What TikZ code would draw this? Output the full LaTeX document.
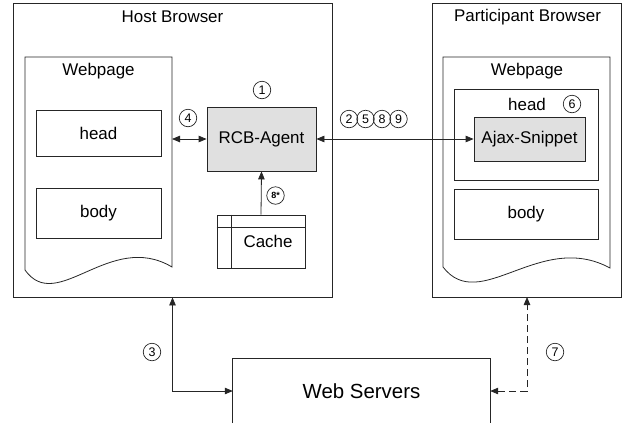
\documentclass[tikz,border=0pt]{standalone}
\usepackage{fontspec}
\setmainfont{Liberation Sans}
\usetikzlibrary{arrows.meta}

\tikzset{
  box/.style={draw=black!85, line width=0.8bp, inner sep=0pt},
  agentbox/.style={box, fill=black!12},
  num/.style={circle, draw=black!85, line width=0.7bp, inner sep=0pt,
    minimum size=17.5bp, font=\fontsize{12.5}{12.5}\selectfont},
  tip/.tip={Triangle[length=8bp,width=6.5bp]},
  link/.style={line width=0.8bp, draw=black!85},
}

\begin{document}
\begin{tikzpicture}[x=1bp, y=-1bp, font=\fontsize{17}{19}\selectfont]
    \useasboundingbox (0,0) rectangle (623,423);

    % host side
    \node[box, minimum width=319bp, minimum height=294bp] (host) at (172.5,150) {};
    \node (hosttitle) at (172.5,17) {Host Browser};
    \draw[link] (25,270) -- (25,57) -- (172,57) -- (172,267) .. controls (110,230) and (57,315) .. (25,270) -- cycle;
    \coordinate (hwpE) at (172,139);
    \node (hwptitle) at (98.5,71) {Webpage};
    \node[box, minimum width=125bp, minimum height=46bp] (hhead) at (98.5,133) {head};
    \node[box, minimum width=125bp, minimum height=50bp] (hbody) at (98.5,213) {body};
    \node[agentbox, minimum width=109bp, minimum height=64bp] (agent) at (261.5,139) {RCB-Agent};
    \node[box, minimum width=88bp, minimum height=53bp] (cache) at (261,241.5) {\hspace*{14bp}Cache};
    \draw[link] ([yshift=-13bp]cache.north west) -- ([yshift=-13bp]cache.north east);
    \draw[link] ([xshift=15bp]cache.north west) -- ([xshift=15bp]cache.south west);

    % participant side
    \node[box, minimum width=189bp, minimum height=294bp] (part) at (526.5,150) {};
    \node (parttitle) at (527.5,17) {Participant Browser};
    \draw[link] (443,267) -- (443,57) -- (610,57) -- (610,268) .. controls (540,230) and (480,315) .. (443,267) -- cycle;
    \node (pwptitle) at (527,71) {Webpage};
    \node[box, minimum width=144bp, minimum height=91bp] (phead) at (526,134.5) {};
    \node (pheadtitle) at (527,104) {head};
    \node[agentbox, minimum width=111bp, minimum height=44bp] (ajax) at (529.5,139) {Ajax-Snippet};
    \node[box, minimum width=144bp, minimum height=50bp] (pbody) at (526,214) {body};
    \coordinate (p7) at (527,297);

    % servers
    \node[minimum width=257bp, minimum height=64bp, inner sep=0pt, font=\fontsize{20.5}{22}\selectfont] (servers) at (361.5,391) {Web Servers};
    \draw[link] (servers.south west) |- (servers.north east) -- (servers.south east);

    % connectors
    \draw[link, tip-tip] (hwpE) -- (agent.west);
    \draw[link, -tip] (cache.north) -- (agent.south);
    \draw[link, tip-tip] (agent.east) -- (ajax.west);
    \draw[link, tip-tip] (host.south) |- (servers.west);
    \draw[link, tip-tip, dashed, dash pattern=on 7bp off 4bp] (servers.east) -| (p7);

    % step numbers
    \node[num] (n1) at (262,90) {1};
    \node[num] (n2) at (349,119) {2};
    \node[num] (n5) at (365.5,119) {5};
    \node[num] (n8) at (382,119) {8};
    \node[num] (n9) at (398.5,119) {9};
    \node[num] (n3) at (152,352) {3};
    \node[num] (n4) at (188,118) {4};
    \node[num] (n6) at (572,104) {6};
    \node[num] (n7) at (555,352) {7};
    \node[num, font=\fontsize{9}{9}\bfseries] (n8s) at (275.5,195.5) {8*};
\end{tikzpicture}
\end{document}
